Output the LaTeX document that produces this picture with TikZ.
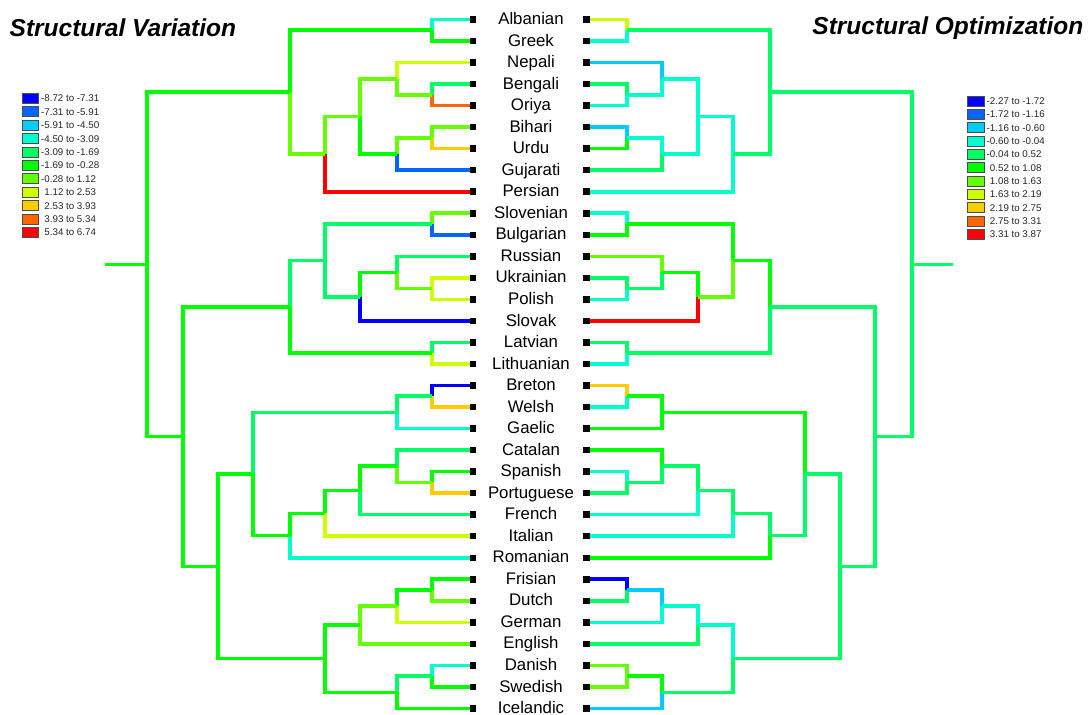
\documentclass[tikz,border=0pt]{standalone}
\usepackage{fontspec}
\setmainfont{Liberation Sans}
\definecolor{c1}{HTML}{0000FF}
\definecolor{c2}{HTML}{0066FF}
\definecolor{c3}{HTML}{00CCFF}
\definecolor{c4}{HTML}{00FFCC}
\definecolor{c5}{HTML}{00FF66}
\definecolor{c6}{HTML}{00FF00}
\definecolor{c7}{HTML}{66FF00}
\definecolor{c8}{HTML}{CCFF00}
\definecolor{c9}{HTML}{FFCC00}
\definecolor{c10}{HTML}{FF6600}
\definecolor{c11}{HTML}{FF0000}
\tikzset{
  branch/.style={line width=3.6pt, line cap=butt, line join=miter},
  sq/.style={fill=black, inner sep=0pt, minimum size=6.5pt, draw=none},
  lab/.style={inner sep=0pt, anchor=base, font=\fontsize{16.8}{18}\selectfont},
  ttl/.style={inner sep=0pt, font=\fontsize{24.5}{28}\selectfont\bfseries\itshape},
  legbox/.style={draw=black!70, line width=0.7pt},
  legtxt/.style={inner sep=0pt, anchor=base west, text=black!85, font=\fontsize{9.75}{11}\selectfont}
}
\newcommand\tbranch[3]{\draw[branch,#1] (#2) -| (#3);}
\begin{document}
\begin{tikzpicture}[x=1pt,y=-1pt]
\useasboundingbox (0,0) rectangle (1088,715);
% leaf positions
\foreach \i in {0,...,32}{
  \coordinate (L\i) at (473,{19.5+21.53*\i});
  \coordinate (R\i) at (586.5,{19.5+21.53*\i});
}
% left tree internal nodes
\coordinate (nAG) at (432,19.5+21.53*0.5);
\coordinate (nBO) at (432,19.5+21.53*3.5);
\coordinate (nNBO) at (397,19.5+21.53*2.75);
\coordinate (nBU) at (432,19.5+21.53*5.5);
\coordinate (nBUG) at (397,19.5+21.53*6.25);
\coordinate (nIA) at (360,19.5+21.53*4.5);
\coordinate (nIAP) at (325,19.5+21.53*6.25);
\coordinate (nTop) at (290,19.5+21.53*3.375);
\coordinate (nSB) at (432,19.5+21.53*9.5);
\coordinate (nUP) at (432,19.5+21.53*12.5);
\coordinate (nRUP) at (397,19.5+21.53*11.75);
\coordinate (nRUPS) at (360,19.5+21.53*12.875);
\coordinate (nSlav) at (325,19.5+21.53*11.1875);
\coordinate (nLL) at (432,19.5+21.53*15.5);
\coordinate (nBS) at (290,19.5+21.53*13.34375);
\coordinate (nBW) at (432,19.5+21.53*17.5);
\coordinate (nCel) at (397,19.5+21.53*18.25);
\coordinate (nSP) at (432,19.5+21.53*21.5);
\coordinate (nCSP) at (397,19.5+21.53*20.75);
\coordinate (nCSPF) at (360,19.5+21.53*21.875);
\coordinate (nCSPFI) at (325,19.5+21.53*22.9375);
\coordinate (nRom) at (290,19.5+21.53*23.96875);
\coordinate (nCR) at (253,19.5+21.53*21.109375);
\coordinate (nFD) at (432,19.5+21.53*26.5);
\coordinate (nFDG) at (397,19.5+21.53*27.25);
\coordinate (nWG) at (360,19.5+21.53*28.125);
\coordinate (nDS) at (432,19.5+21.53*30.5);
\coordinate (nNG) at (397,19.5+21.53*31.25);
\coordinate (nGer) at (325,19.5+21.53*29.6875);
\coordinate (nCRG) at (218,19.5+21.53*25.3984375);
\coordinate (nBot) at (183,19.5+21.53*19.37109375);
\coordinate (nRoot) at (147,19.5+21.53*11.373046875);
\coordinate (sL) at (105,19.5+21.53*11.373046875);
% right tree internal nodes
\coordinate (rAG) at (627,19.5+21.53*0.5);
\coordinate (rBO) at (627,19.5+21.53*3.5);
\coordinate (rNBO) at (662,19.5+21.53*2.75);
\coordinate (rBU) at (627,19.5+21.53*5.5);
\coordinate (rBUG) at (662,19.5+21.53*6.25);
\coordinate (rIA) at (698,19.5+21.53*4.5);
\coordinate (rIAP) at (733,19.5+21.53*6.25);
\coordinate (rTop) at (770,19.5+21.53*3.375);
\coordinate (rSB) at (627,19.5+21.53*9.5);
\coordinate (rUP) at (627,19.5+21.53*12.5);
\coordinate (rRUP) at (662,19.5+21.53*11.75);
\coordinate (rRUPS) at (698,19.5+21.53*12.875);
\coordinate (rSlav) at (733,19.5+21.53*11.1875);
\coordinate (rLL) at (627,19.5+21.53*15.5);
\coordinate (rBS) at (770,19.5+21.53*13.34375);
\coordinate (rBW) at (627,19.5+21.53*17.5);
\coordinate (rCel) at (662,19.5+21.53*18.25);
\coordinate (rSP) at (627,19.5+21.53*21.5);
\coordinate (rCSP) at (662,19.5+21.53*20.75);
\coordinate (rCSPF) at (698,19.5+21.53*21.875);
\coordinate (rCSPFI) at (733,19.5+21.53*22.9375);
\coordinate (rRom) at (770,19.5+21.53*23.96875);
\coordinate (rCR) at (805,19.5+21.53*21.109375);
\coordinate (rFD) at (627,19.5+21.53*26.5);
\coordinate (rFDG) at (662,19.5+21.53*27.25);
\coordinate (rWG) at (698,19.5+21.53*28.125);
\coordinate (rDS) at (627,19.5+21.53*30.5);
\coordinate (rNG) at (662,19.5+21.53*31.25);
\coordinate (rGer) at (733,19.5+21.53*29.6875);
\coordinate (rCRG) at (840,19.5+21.53*25.3984375);
\coordinate (rBot) at (875,19.5+21.53*19.37109375);
\coordinate (rRoot) at (912,19.5+21.53*11.373046875);
\coordinate (sR) at (953,19.5+21.53*11.373046875);
% left tree branches
\tbranch{c4}{L0}{nAG} \tbranch{c6}{L1}{nAG}
\tbranch{c5}{L3}{nBO} \tbranch{c10}{L4}{nBO}
\tbranch{c8}{L2}{nNBO} \tbranch{c7}{nBO}{nNBO}
\tbranch{c7}{L5}{nBU} \tbranch{c9}{L6}{nBU}
\tbranch{c7}{nBU}{nBUG} \tbranch{c2}{L7}{nBUG}
\tbranch{c7}{nNBO}{nIA} \tbranch{c6}{nBUG}{nIA}
\tbranch{c7}{nIA}{nIAP} \tbranch{c11}{L8}{nIAP}
\tbranch{c6}{nAG}{nTop} \tbranch{c7}{nIAP}{nTop}
\tbranch{c7}{L9}{nSB} \tbranch{c2}{L10}{nSB}
\tbranch{c8}{L12}{nUP} \tbranch{c8}{L13}{nUP}
\tbranch{c5}{L11}{nRUP} \tbranch{c7}{nUP}{nRUP}
\tbranch{c6}{nRUP}{nRUPS} \tbranch{c1}{L14}{nRUPS}
\tbranch{c5}{nSB}{nSlav} \tbranch{c5}{nRUPS}{nSlav}
\tbranch{c5}{L15}{nLL} \tbranch{c8}{L16}{nLL}
\tbranch{c5}{nSlav}{nBS} \tbranch{c6}{nLL}{nBS}
\tbranch{c1}{L17}{nBW} \tbranch{c9}{L18}{nBW}
\tbranch{c5}{nBW}{nCel} \tbranch{c4}{L19}{nCel}
\tbranch{c6}{L21}{nSP} \tbranch{c9}{L22}{nSP}
\tbranch{c5}{L20}{nCSP} \tbranch{c7}{nSP}{nCSP}
\tbranch{c6}{nCSP}{nCSPF} \tbranch{c5}{L23}{nCSPF}
\tbranch{c6}{nCSPF}{nCSPFI} \tbranch{c8}{L24}{nCSPFI}
\tbranch{c6}{nCSPFI}{nRom} \tbranch{c4}{L25}{nRom}
\tbranch{c5}{nCel}{nCR} \tbranch{c6}{nRom}{nCR}
\tbranch{c6}{L26}{nFD} \tbranch{c7}{L27}{nFD}
\tbranch{c6}{nFD}{nFDG} \tbranch{c8}{L28}{nFDG}
\tbranch{c7}{nFDG}{nWG} \tbranch{c7}{L29}{nWG}
\tbranch{c4}{L30}{nDS} \tbranch{c6}{L31}{nDS}
\tbranch{c5}{nDS}{nNG} \tbranch{c6}{L32}{nNG}
\tbranch{c6}{nWG}{nGer} \tbranch{c6}{nNG}{nGer}
\tbranch{c6}{nCR}{nCRG} \tbranch{c6}{nGer}{nCRG}
\tbranch{c6}{nBS}{nBot} \tbranch{c6}{nCRG}{nBot}
\tbranch{c6}{nTop}{nRoot} \tbranch{c6}{nBot}{nRoot}
\draw[branch,c6] (nRoot) -- (sL);
% right tree branches
\tbranch{c8}{R0}{rAG} \tbranch{c4}{R1}{rAG}
\tbranch{c5}{R3}{rBO} \tbranch{c4}{R4}{rBO}
\tbranch{c3}{R2}{rNBO} \tbranch{c4}{rBO}{rNBO}
\tbranch{c3}{R5}{rBU} \tbranch{c6}{R6}{rBU}
\tbranch{c4}{rBU}{rBUG} \tbranch{c5}{R7}{rBUG}
\tbranch{c4}{rNBO}{rIA} \tbranch{c4}{rBUG}{rIA}
\tbranch{c4}{rIA}{rIAP} \tbranch{c4}{R8}{rIAP}
\tbranch{c5}{rAG}{rTop} \tbranch{c5}{rIAP}{rTop}
\tbranch{c4}{R9}{rSB} \tbranch{c6}{R10}{rSB}
\tbranch{c5}{R12}{rUP} \tbranch{c4}{R13}{rUP}
\tbranch{c7}{R11}{rRUP} \tbranch{c5}{rUP}{rRUP}
\tbranch{c6}{rRUP}{rRUPS} \tbranch{c11}{R14}{rRUPS}
\tbranch{c6}{rSB}{rSlav} \tbranch{c7}{rRUPS}{rSlav}
\tbranch{c5}{R15}{rLL} \tbranch{c4}{R16}{rLL}
\tbranch{c6}{rSlav}{rBS} \tbranch{c5}{rLL}{rBS}
\tbranch{c9}{R17}{rBW} \tbranch{c4}{R18}{rBW}
\tbranch{c6}{rBW}{rCel} \tbranch{c6}{R19}{rCel}
\tbranch{c4}{R21}{rSP} \tbranch{c5}{R22}{rSP}
\tbranch{c6}{R20}{rCSP} \tbranch{c5}{rSP}{rCSP}
\tbranch{c5}{rCSP}{rCSPF} \tbranch{c4}{R23}{rCSPF}
\tbranch{c5}{rCSPF}{rCSPFI} \tbranch{c4}{R24}{rCSPFI}
\tbranch{c5}{rCSPFI}{rRom} \tbranch{c6}{R25}{rRom}
\tbranch{c6}{rCel}{rCR} \tbranch{c5}{rRom}{rCR}
\tbranch{c1}{R26}{rFD} \tbranch{c5}{R27}{rFD}
\tbranch{c3}{rFD}{rFDG} \tbranch{c4}{R28}{rFDG}
\tbranch{c4}{rFDG}{rWG} \tbranch{c5}{R29}{rWG}
\tbranch{c7}{R30}{rDS} \tbranch{c7}{R31}{rDS}
\tbranch{c6}{rDS}{rNG} \tbranch{c3}{R32}{rNG}
\tbranch{c4}{rWG}{rGer} \tbranch{c5}{rNG}{rGer}
\tbranch{c5}{rCR}{rCRG} \tbranch{c5}{rGer}{rCRG}
\tbranch{c5}{rBS}{rBot} \tbranch{c5}{rCRG}{rBot}
\tbranch{c5}{rTop}{rRoot} \tbranch{c5}{rBot}{rRoot}
\draw[branch,c5] (rRoot) -- (sR);
% leaf squares and labels
\foreach \name [count=\i from 0] in {Albanian,Greek,Nepali,Bengali,Oriya,Bihari,Urdu,Gujarati,Persian,Slovenian,Bulgarian,Russian,Ukrainian,Polish,Slovak,Latvian,Lithuanian,Breton,Welsh,Gaelic,Catalan,Spanish,Portuguese,French,Italian,Romanian,Frisian,Dutch,German,English,Danish,Swedish,Icelandic}{
  \node[sq] (sqL\i) at (L\i) {};
  \node[sq] (sqR\i) at (R\i) {};
  \node[lab] (lab\i) at (531,{24.6+21.53*\i}) {\name};
}
% titles
\node[ttl, anchor=west] (tleft) at (9.5,28) {Structural Variation};
\node[ttl, anchor=east] (tright) at (1083.5,28) {Structural Optimization};
% legends
\foreach \t [count=\k from 1] in {{-8.72 to -7.31},{-7.31 to -5.91},{-5.91 to -4.50},{-4.50 to -3.09},{-3.09 to -1.69},{-1.69 to -0.28},{-0.28 to 1.12},{\phantom{-}1.12 to 2.53},{\phantom{-}2.53 to 3.93},{\phantom{-}3.93 to 5.34},{\phantom{-}5.34 to 6.74}}{
  \draw[legbox, fill=c\k] (22,{93.3+13.4*(\k-1)}) rectangle (38,{103.3+13.4*(\k-1)});
  \node[legtxt] (lgL\k) at (41,{101.8+13.4*(\k-1)}) {\t};
}
\foreach \t [count=\k from 1] in {{-2.27 to -1.72},{-1.72 to -1.16},{-1.16 to -0.60},{-0.60 to -0.04},{-0.04 to 0.52},{\phantom{-}0.52 to 1.08},{\phantom{-}1.08 to 1.63},{\phantom{-}1.63 to 2.19},{\phantom{-}2.19 to 2.75},{\phantom{-}2.75 to 3.31},{\phantom{-}3.31 to 3.87}}{
  \draw[legbox, fill=c\k] (967,{96+13.33*(\k-1)}) rectangle (984,{106+13.33*(\k-1)});
  \node[legtxt] (lgR\k) at (986.5,{104.5+13.33*(\k-1)}) {\t};
}
\end{tikzpicture}
\end{document}
